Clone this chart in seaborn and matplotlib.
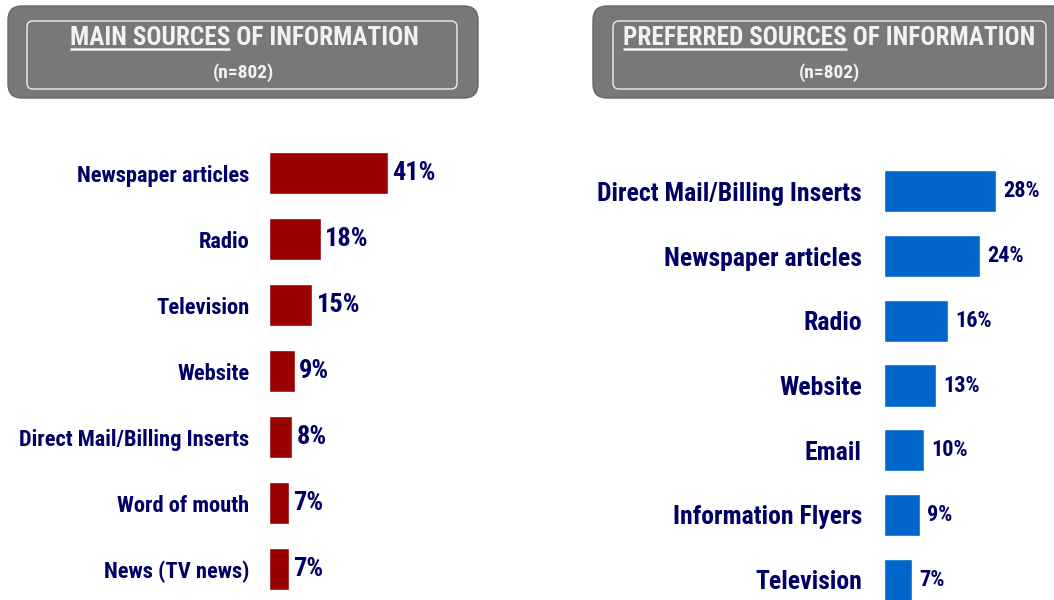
import matplotlib
matplotlib.use("Agg")
import matplotlib.pyplot as plt
import pandas as pd
import seaborn as sns
from matplotlib.patches import FancyBboxPatch

# chart data
main_sources = ["Newspaper articles", "Radio", "Television", "Website",
                "Direct Mail/Billing Inserts", "Word of mouth", "News (TV news)"]
main_pct = [41, 18, 15, 9, 8, 7, 7]

preferred_sources = ["Direct Mail/Billing Inserts", "Newspaper articles", "Radio",
                     "Website", "Email", "Information Flyers", "Television"]
preferred_pct = [28, 24, 16, 13, 10, 9, 7]

W, H = 1054, 600
NAVY = "#000066"

sns.set_theme(style="white")
plt.rcParams["font.family"] = ["Roboto Condensed", "Liberation Sans", "DejaVu Sans"]
plt.rcParams["font.weight"] = "bold"

fig = plt.figure(figsize=(W / 100, H / 100), dpi=100, facecolor="white")


def px_axes(left, top, width, height):
    return fig.add_axes([left / W, 1 - (top + height) / H, width / W, height / H])


# background axes in pixel coords for the header boxes
bg = fig.add_axes([0, 0, 1, 1], zorder=-1)
bg.set_xlim(0, W)
bg.set_ylim(H, 0)
bg.axis("off")
renderer = fig.canvas.get_renderer()
TITLE_SIZE = 18.2


def header(x0, x1, ix0, ix1, cx, under, rest):
    bg.add_patch(FancyBboxPatch((x0, 6), x1 - x0, 92,
                                boxstyle="round,pad=0,rounding_size=14",
                                fc="#787878", ec="#666666", lw=1))
    bg.add_patch(FancyBboxPatch((ix0, 21), ix1 - ix0, 68,
                                boxstyle="round,pad=0,rounding_size=6",
                                fc="none", ec="#f0f0f0", lw=1))
    t = bg.text(cx, 45, under + rest, ha="center", va="baseline",
                fontsize=TITLE_SIZE, fontweight="bold", color="#f2f2f2")
    bg.text(cx, 78, "(n=802)", ha="center", va="baseline",
            fontsize=14, fontweight="bold", color="#f2f2f2")
    # underline the first part of the title
    full = t.get_window_extent(renderer)
    tmp = bg.text(0, 0, under, fontsize=TITLE_SIZE, fontweight="bold")
    uw = tmp.get_window_extent(renderer).width
    tmp.remove()
    bg.plot([full.x0, full.x0 + uw], [48.5, 48.5], color="#f2f2f2", lw=1.8,
            solid_capstyle="butt")


header(8, 478, 27, 457, 244, "MAIN SOURCES", " OF INFORMATION")
header(593, 1070, 613, 1046, 829, "PREFERRED SOURCES", " OF INFORMATION")


def bars(ax, cats, vals, color, xmax, label_size, value_size, pad, vpad):
    df = pd.DataFrame({"source": cats, "pct": vals})
    sns.barplot(data=df, x="pct", y="source", orient="h", color=color,
                saturation=1, width=0.65, ax=ax)
    ax.set_xlim(0, xmax)
    ax.set_xlabel("")
    ax.set_ylabel("")
    ax.set_xticks([])
    sns.despine(ax=ax, left=True, bottom=True)
    ax.tick_params(axis="y", length=0, pad=pad, labelsize=label_size,
                   labelcolor=NAVY)
    for lbl in ax.get_yticklabels():
        lbl.set_fontweight("bold")
    ax.bar_label(ax.containers[0], fmt="{:.0f}%", padding=vpad,
                 fontsize=value_size, fontweight="bold", color=NAVY)
    ax.patch.set_alpha(0)


ax1 = px_axes(269, 140, 174, 462)
bars(ax1, main_sources, main_pct, "#990000", 60, 16.2, 19, 14, 3)

ax2 = px_axes(884, 159, 160, 453)
bars(ax2, preferred_sources, preferred_pct, "#0066CC", 40, 18.5, 16, 16, 5)

fig.savefig("out.png", dpi=100, facecolor="white")
